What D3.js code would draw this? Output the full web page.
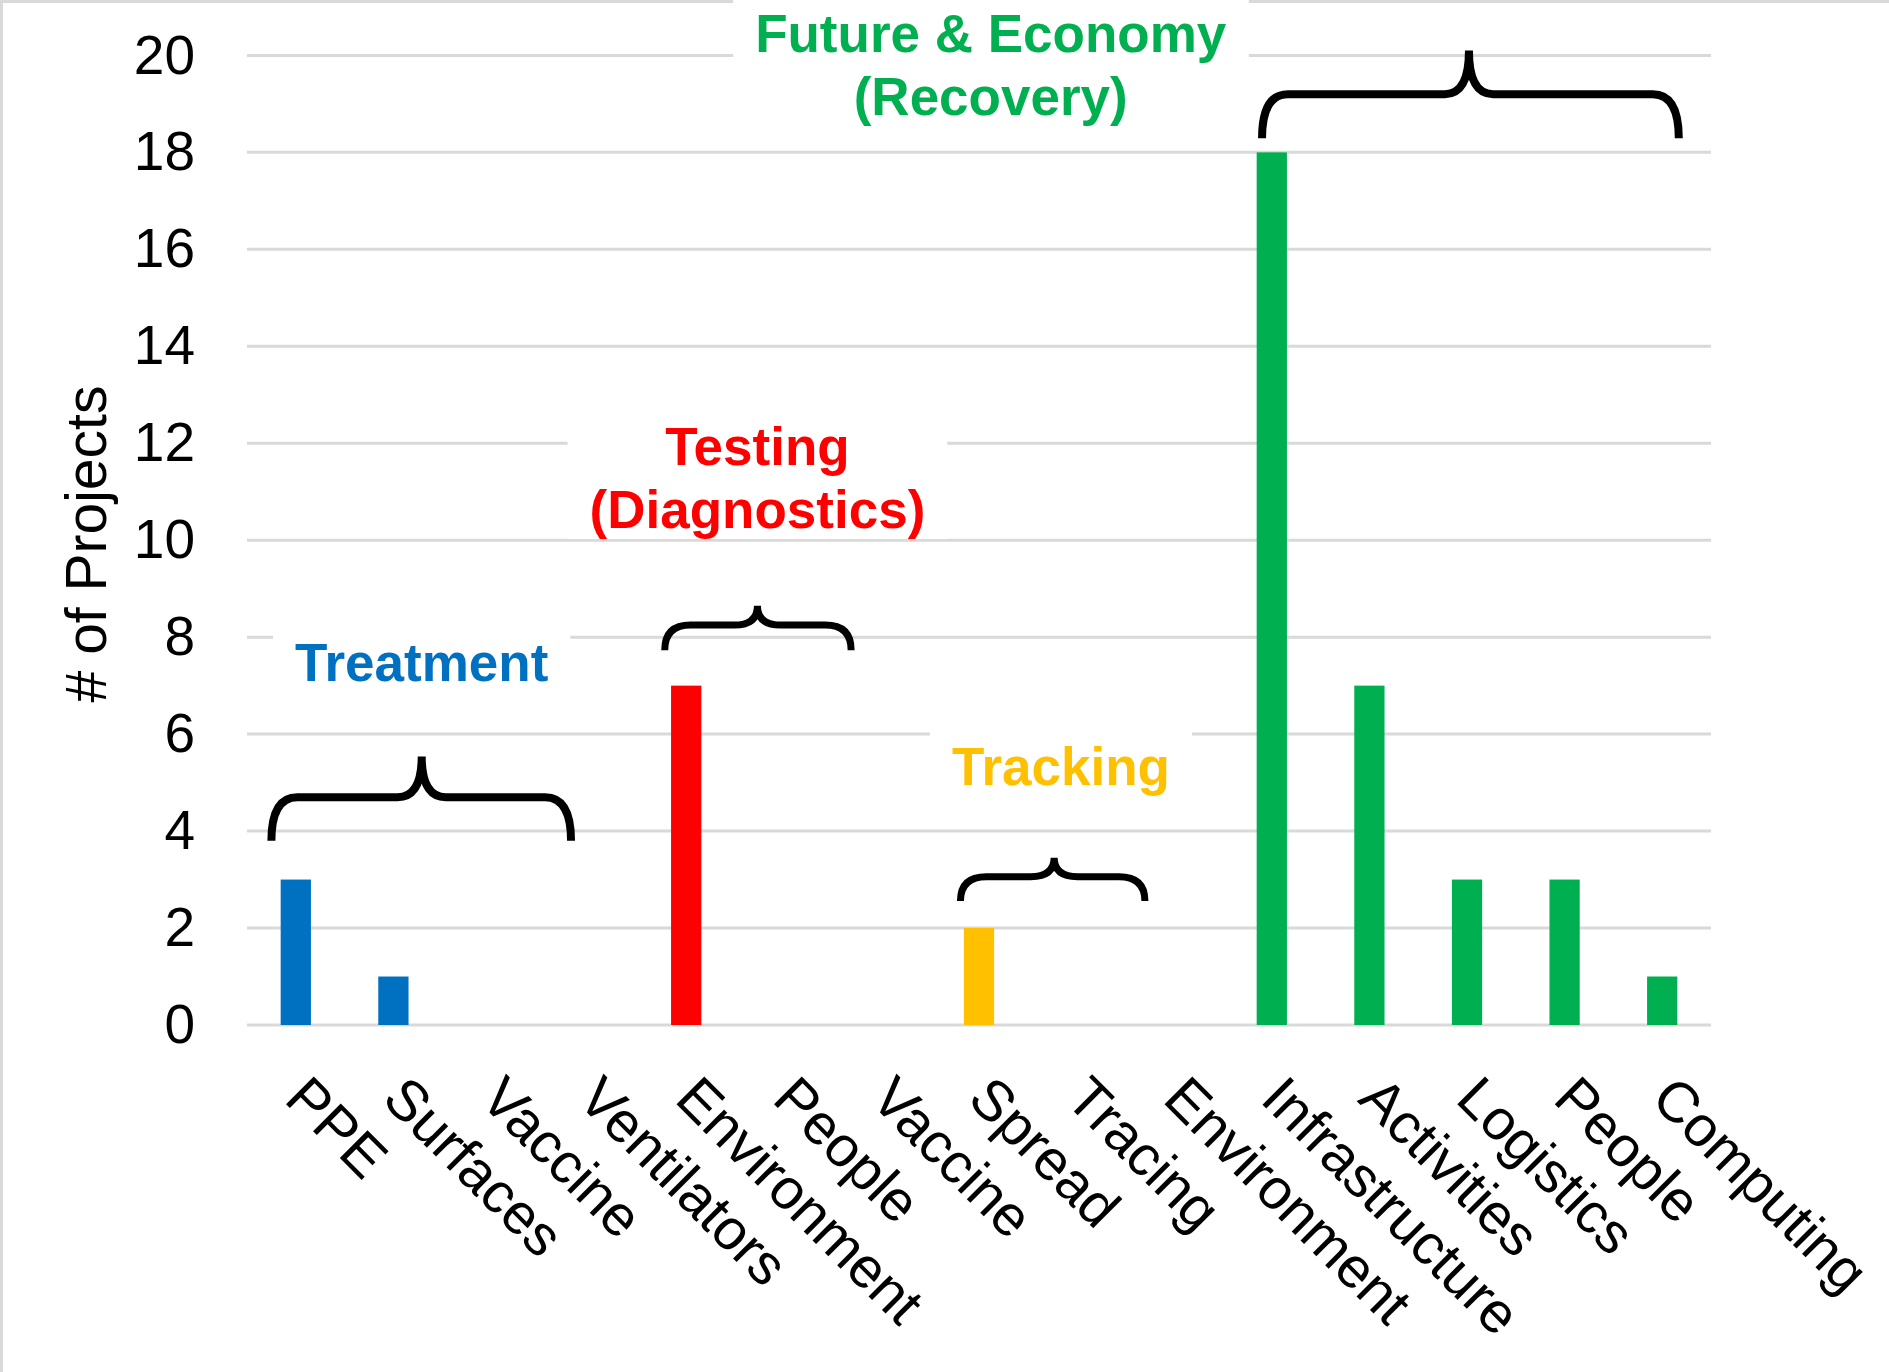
<!DOCTYPE html>
<html>
<head>
<meta charset="utf-8">
<script src="https://cdn.jsdelivr.net/npm/d3@7"></script>
<style>
body { margin: 0; background: #fff; }
text { font-family: "Liberation Sans", Arial, sans-serif; }
</style>
</head>
<body>
<svg></svg>
<script>
// chart values
var categories = ["PPE", "Surfaces", "Vaccine", "Ventilators", "Environment", "People", "Vaccine",
                  "Spread", "Tracing", "Environment", "Infrastructure", "Activities", "Logistics", "People", "Computing"]
var projects = [3, 1, 0, 0, 7, 0, 0, 2, 0, 0, 18, 7, 3, 3, 1]
var groupOf = [0, 0, 0, 0, 1, 1, 1, 2, 2, 2, 3, 3, 3, 3, 3]
var groupLabels = [["Treatment"], ["Testing", "(Diagnostics)"], ["Tracking"], ["Future & Economy", "(Recovery)"]]
var groupColors = ["#0070C0", "#FF0000", "#FFC000", "#00B050"]
var yTicks = [0, 2, 4, 6, 8, 10, 12, 14, 16, 18, 20]

// braces, in category units (0..15 across the plot) and y values
var braceLeft = [0.25, 4.28, 7.31, 10.4]
var braceRight = [3.32, 6.19, 9.2, 14.67]
var braceMid = [1.79, 5.23, 8.27, 12.52]
var braceTip = [3.8, 7.73, 2.56, 18.29]
var braceBar = [4.7, 8.25, 3.06, 19.2]
var bracePeak = [5.54, 8.65, 3.45, 20.1]

// where the group titles sit (first baseline)
var labelPos = [1.79, 5.23, 8.34, 7.62]
var labelVal = [7.1, 11.55, 4.95, 20.07]

var screen = {width: 1889, height: 1372}
var plot = {left: 247, right: 1711, top: 55.4, bottom: 1025}

var svg = d3.select("svg")
  .attr("width", screen.width)
  .attr("height", screen.height)

svg.append("rect").attr("width", screen.width).attr("height", screen.height).attr("fill", "#fff")

// frame
svg.append("line").attr("x1", 1.5).attr("x2", 1.5).attr("y1", 0).attr("y2", screen.height)
  .attr("stroke", "#d9d9d9").attr("stroke-width", 3)
svg.append("line").attr("x1", 0).attr("x2", screen.width).attr("y1", 1.5).attr("y2", 1.5)
  .attr("stroke", "#d9d9d9").attr("stroke-width", 3)

var x = d3.scaleBand()
  .domain(d3.range(categories.length))
  .range([plot.left, plot.right])
  .paddingInner(0.69)
  .paddingOuter(0.345)

var u = d3.scaleLinear().domain([0, categories.length]).range([plot.left, plot.right])

var y = d3.scaleLinear().domain([0, 20]).range([plot.bottom, plot.top])

// gridlines
svg.append("g")
  .selectAll("line")
  .data(yTicks)
  .enter()
  .append("line")
  .attr("x1", plot.left)
  .attr("x2", plot.right)
  .attr("y1", function(d) { return y(d) })
  .attr("y2", function(d) { return y(d) })
  .attr("stroke", "#d9d9d9")
  .attr("stroke-width", 3)

// y axis labels
var yAxis = svg.append("g")
  .attr("transform", "translate(" + plot.left + ",0)")
  .call(d3.axisLeft(y).tickValues(yTicks).tickSize(0).tickPadding(52))
yAxis.select(".domain").remove()
yAxis.selectAll("text")
  .attr("font-size", 55)
  .attr("fill", "#000")
  .style("font-family", '"Liberation Sans", Arial, sans-serif')

svg.append("text")
  .attr("transform", "translate(106," + 544 + ") rotate(-90)")
  .attr("text-anchor", "middle")
  .attr("font-size", 57)
  .attr("fill", "#000")
  .text("# of Projects")

// white boxes behind group titles, then titles
var boxLayer = svg.append("g")
var titles = svg.append("g")

// bars
svg.append("g")
  .selectAll("rect")
  .data(projects)
  .enter()
  .append("rect")
  .attr("x", function(d, i) { return x(i) })
  .attr("width", x.bandwidth())
  .attr("y", function(d) { return y(d) })
  .attr("height", function(d) { return y(0) - y(d) })
  .attr("fill", function(d, i) { return groupColors[groupOf[i]] })

// x labels
svg.append("g")
  .selectAll("text")
  .data(categories)
  .enter()
  .append("text")
  .attr("transform", function(d, i) {
    return "translate(" + (x(i) + x.bandwidth() / 2 - 13) + ",1101) rotate(45)"
  })
  .attr("font-size", 57)
  .attr("fill", "#000")
  .text(function(d) { return d })

// braces
var bracePath = function(i) {
  var x0 = u(braceLeft[i]), x1 = u(braceRight[i]), xm = u(braceMid[i])
  var yt = y(braceTip[i]), yb = y(braceBar[i]), yp = y(bracePeak[i])
  var r = Math.min(26, (xm - x0) / 3)
  var c = Math.min(24, (xm - x0) / 4)
  return "M" + x0 + "," + yt +
    "Q" + x0 + "," + yb + " " + (x0 + r) + "," + yb +
    "L" + (xm - c) + "," + yb +
    "Q" + xm + "," + yb + " " + xm + "," + yp +
    "Q" + xm + "," + yb + " " + (xm + c) + "," + yb +
    "L" + (x1 - r) + "," + yb +
    "Q" + x1 + "," + yb + " " + x1 + "," + yt
}

svg.append("g")
  .selectAll("path")
  .data(braceLeft)
  .enter()
  .append("path")
  .attr("d", function(d, i) { return bracePath(i) })
  .attr("fill", "none")
  .attr("stroke", "#000")
  .attr("stroke-width", function(d, i) { return (i == 0 || i == 3) ? 8 : 7 })
  .attr("stroke-linejoin", "bevel")

groupLabels.forEach(function(lines, i) {
  var t = titles.append("text")
    .attr("x", u(labelPos[i]))
    .attr("y", y(labelVal[i]))
    .attr("text-anchor", "middle")
    .attr("font-size", 53)
    .attr("font-weight", "bold")
    .attr("fill", groupColors[i])
  lines.forEach(function(line, k) {
    t.append("tspan")
      .attr("x", u(labelPos[i]))
      .attr("dy", k == 0 ? 0 : 63)
      .text(line)
  })
  var b = t.node().getBBox()
  boxLayer.append("rect")
    .attr("x", b.x - 22)
    .attr("y", i == 3 ? 0 : b.y - 8)
    .attr("width", b.width + 44)
    .attr("height", (i == 3 ? b.y : 0) + b.height + 8)
    .attr("fill", "#fff")
})
</script>
</body>
</html>
